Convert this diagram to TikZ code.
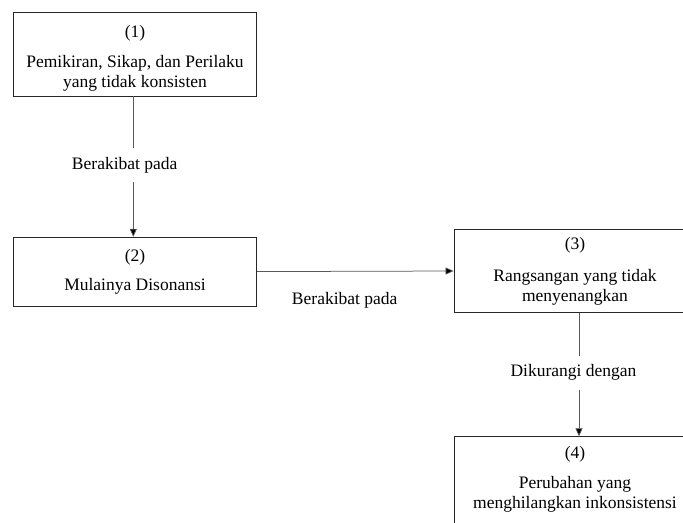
\documentclass[tikz,border=0pt]{standalone}
\usepackage{fontspec}
\setmainfont{Liberation Serif}
\usetikzlibrary{arrows.meta}
\begin{document}
\begin{tikzpicture}[x=1bp,y=-1bp,
  every node/.style={font=\fontsize{17.5bp}{20bp}\selectfont},
  box/.style={draw=black!85,line width=0.8bp,rectangle,inner sep=0pt},
  txt/.style={align=center,inner sep=0pt},
  conn/.style={draw=black!65,line width=0.75bp,-{Triangle[length=8bp,width=7bp,fill=black]}},
  lbl/.style={fill=white,inner xsep=2bp,inner ysep=9bp}]
\useasboundingbox (0,0) rectangle (683,523);
\clip (0,0) rectangle (683,523);
\fill[white] (0,0) rectangle (683,523);
\node[box,minimum width=243.4bp,minimum height=83.3bp] (b1) at (135,54.3) {};
\node[txt] (t1) at (135,58.8) {(1)\\[10bp]Pemikiran, Sikap, dan Perilaku\\yang tidak konsisten};
\node[box,minimum width=243.4bp,minimum height=68.7bp] (b2) at (135,271.6) {};
\node[txt] (t2) at (135,271.6) {(2)\\[8.7bp]Mulainya Disonansi};
\node[box,minimum width=242bp,minimum height=83.4bp] (b3) at (575,271) {};
\node[txt] (t3) at (575,271) {(3)\\[12bp]Rangsangan yang tidak\\menyenangkan};
\node[box,minimum width=242bp,minimum height=93bp] (b4) at (575,483.2) {};
\node[txt] (t4) at (575,479.7) {(4)\\[10bp]Perubahan yang\\menghilangkan inkonsistensi};
\draw[conn] ([xshift=-1.7bp]b1.south) -- ([xshift=-1.7bp]b2.north);
\draw[conn] (b2.east) -- (b3.west);
\draw[conn] ([xshift=4bp]b3.south) -- ([xshift=4bp]b4.north);
\node[lbl] (l1) at (124.7,165.2) {Berakibat pada};
\node[inner sep=1bp] (l2) at (344.7,300.5) {Berakibat pada};
\node[lbl] (l3) at (573.5,372.7) {Dikurangi dengan};
\end{tikzpicture}
\end{document}
